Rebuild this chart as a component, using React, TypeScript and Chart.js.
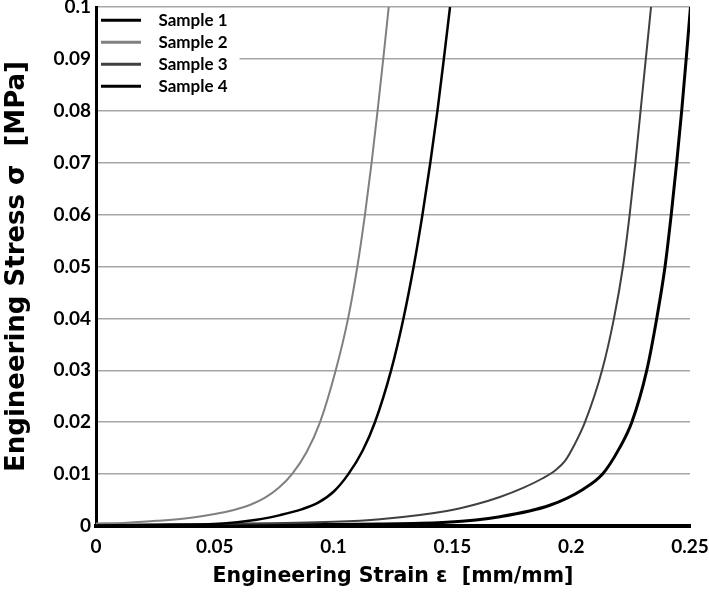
import React, { useEffect, useRef } from 'react';
import { Chart, registerables } from 'chart.js';

Chart.register(...registerables);

// ---- Data ----
const seriesNames = ['Sample 1', 'Sample 2', 'Sample 3', 'Sample 4'];

const sample1Strain = [0, 0.025, 0.0536, 0.0676, 0.0775, 0.0865, 0.0935, 0.1002, 0.1062, 0.1122, 0.1174, 0.1242, 0.1294, 0.1337, 0.1374, 0.1407, 0.1437, 0.1464, 0.149];
const sample1Stress = [0.0001, 0.0002, 0.0005, 0.0012, 0.0021, 0.0032, 0.0045, 0.0067, 0.01, 0.0145, 0.02, 0.03, 0.04, 0.05, 0.06, 0.07, 0.08, 0.09, 0.1];

const sample2Strain = [0, 0.0115, 0.0255, 0.04, 0.05, 0.058, 0.065, 0.071, 0.0768, 0.0825, 0.0886, 0.0943, 0.1009, 0.1061, 0.11, 0.1132, 0.116, 0.1185, 0.1209, 0.1232];
const sample2Stress = [0.0005, 0.0006, 0.001, 0.0016, 0.0023, 0.0031, 0.0041, 0.0054, 0.0073, 0.01, 0.0142, 0.02, 0.03, 0.04, 0.05, 0.06, 0.07, 0.08, 0.09, 0.1];

const sample3Strain = [0, 0.05, 0.1, 0.1195, 0.1476, 0.16, 0.17, 0.18, 0.188, 0.1935, 0.1975, 0.2012, 0.2058, 0.213, 0.218, 0.2218, 0.2246, 0.227, 0.2292, 0.2314, 0.2336];
const sample3Stress = [0.0002, 0.0004, 0.0008, 0.0013, 0.0029, 0.0042, 0.0056, 0.0074, 0.0092, 0.0108, 0.0126, 0.0155, 0.02, 0.03, 0.04, 0.05, 0.06, 0.07, 0.08, 0.09, 0.1];

const sample4Strain = [0, 0.05, 0.1, 0.1195, 0.1476, 0.17, 0.191, 0.2051, 0.2132, 0.2203, 0.2255, 0.2318, 0.236, 0.2395, 0.2421, 0.2444, 0.2465, 0.2484, 0.2502];
const sample4Stress = [0.0001, 0.0002, 0.0003, 0.0004, 0.0007, 0.0018, 0.004, 0.0071, 0.01, 0.015, 0.02, 0.03, 0.04, 0.05, 0.06, 0.07, 0.08, 0.09, 0.1];

const xTickLabels = ['0', '0.05', '0.1', '0.15', '0.2', '0.25'];
const yTickLabels = ['0', '0.01', '0.02', '0.03', '0.04', '0.05', '0.06', '0.07', '0.08', '0.09', '0.1'];

const X_STEP = 0.05;
const Y_STEP = 0.01;

const FONT = "Lato, 'DejaVu Sans', sans-serif";
const TITLE_FONT = "'DejaVu Sans', Lato, sans-serif";

const zip = (xs: number[], ys: number[]) => xs.map((x, i) => ({ x, y: ys[i] }));

const legendBackground = {
  id: 'legendBackground',
  afterDatasetsDraw(chart: any) {
    const legend = chart.legend;
    if (!legend || !legend.legendHitBoxes || !legend.legendHitBoxes.length) return;
    const boxes = legend.legendHitBoxes;
    let right = 0;
    let bottom = 0;
    for (const b of boxes) {
      right = Math.max(right, b.left + b.width);
      bottom = Math.max(bottom, b.top + b.height);
    }
    const ctx = chart.ctx;
    const area = chart.chartArea;
    ctx.save();
    ctx.fillStyle = '#ffffff';
    ctx.fillRect(area.left + 2, area.top + 1, right + 12 - (area.left + 2), bottom + 6 - (area.top + 1));
    ctx.restore();
    legend.draw();
  },
};

export default function App() {
  const canvasRef = useRef<HTMLCanvasElement | null>(null);

  useEffect(() => {
    document.body.style.margin = '0';
    const canvas = canvasRef.current;
    if (!canvas) return;

    const colors = ['#000000', '#808080', '#404040', '#000000'];
    const widths = [2.5, 2, 2, 3];
    const series = [
      zip(sample1Strain, sample1Stress),
      zip(sample2Strain, sample2Stress),
      zip(sample3Strain, sample3Stress),
      zip(sample4Strain, sample4Stress),
    ];

    const chart = new Chart(canvas, {
      type: 'line',
      data: {
        datasets: series.map((data, i) => ({
          label: seriesNames[i],
          data,
          borderColor: colors[i],
          backgroundColor: colors[i],
          borderWidth: widths[i],
          pointRadius: 0,
          pointHoverRadius: 0,
          cubicInterpolationMode: 'monotone' as const,
          fill: false,
        })),
      },
      options: {
        animation: false,
        responsive: false,
        maintainAspectRatio: false,
        layout: { padding: { top: 7, right: 19, left: 0, bottom: 0 } },
        plugins: {
          tooltip: { enabled: false },
          legend: {
            position: 'chartArea' as any,
            align: 'start',
            title: { display: true, text: ' ', font: { size: 1 }, padding: { top: 0, bottom: 5.5 } },
            labels: {
              usePointStyle: true,
              pointStyle: 'line',
              pointStyleWidth: 49,
              color: '#000000',
              padding: 5,
              font: { family: FONT, size: 17, weight: 'bold' },
              generateLabels: (c: any) =>
                Chart.defaults.plugins.legend.labels.generateLabels(c).map((l: any) => ({
                  ...l,
                  lineWidth: 3,
                  strokeStyle: colors[l.datasetIndex],
                  lineDash: [40, 60],
                  lineDashOffset: 0,
                  lineCap: 'butt',
                })),
            },
          },
        },
        scales: {
          x: {
            type: 'linear',
            min: 0,
            max: 0.25,
            ticks: {
              stepSize: X_STEP,
              autoSkip: false,
              maxRotation: 0,
              padding: 9,
              color: '#000000',
              font: { family: FONT, size: 19, weight: 'bold' },
              callback: (v: any) => xTickLabels[Math.round(Number(v) / X_STEP)],
            },
            grid: { display: false, drawTicks: false },
            border: { display: true, color: '#000000', width: 4 },
            title: {
              display: true,
              text: 'Engineering Strain ε  [mm/mm]',
              color: '#000000',
              font: { family: TITLE_FONT, size: 20.5, weight: 'bold' },
              padding: { top: 0, bottom: 4 },
            },
            afterFit: (s: any) => {
              s.height = 67;
              s.paddingLeft = 0;
              s.paddingRight = 0;
            },
          },
          y: {
            type: 'linear',
            min: 0,
            max: 0.1,
            ticks: {
              stepSize: Y_STEP,
              autoSkip: false,
              padding: 5,
              color: '#000000',
              font: { family: FONT, size: 19, weight: 'bold' },
              callback: (v: any) => yTickLabels[Math.round(Number(v) / Y_STEP)],
            },
            grid: {
              drawTicks: false,
              lineWidth: 1.5,
              color: (ctx: any) => (ctx.tick && ctx.tick.value === 0 ? 'rgba(0,0,0,0)' : '#a6a6a6'),
            },
            border: { display: true, color: '#000000', width: 3 },
            title: {
              display: true,
              text: 'Engineering Stress σ  [MPa]',
              color: '#000000',
              font: { family: TITLE_FONT, size: 26, weight: 'bold' },
              padding: { top: 2, bottom: 0 },
            },
            afterFit: (s: any) => {
              s.width = 96;
              s.paddingTop = 0;
              s.paddingBottom = 0;
            },
          },
        },
      } as any,
      plugins: [legendBackground],
    });

    return () => {
      chart.destroy();
    };
  }, []);

  return (
    <div style={{ width: 709, height: 593 }}>
      <canvas ref={canvasRef} width={709} height={593} style={{ display: 'block' }} />
    </div>
  );
}
